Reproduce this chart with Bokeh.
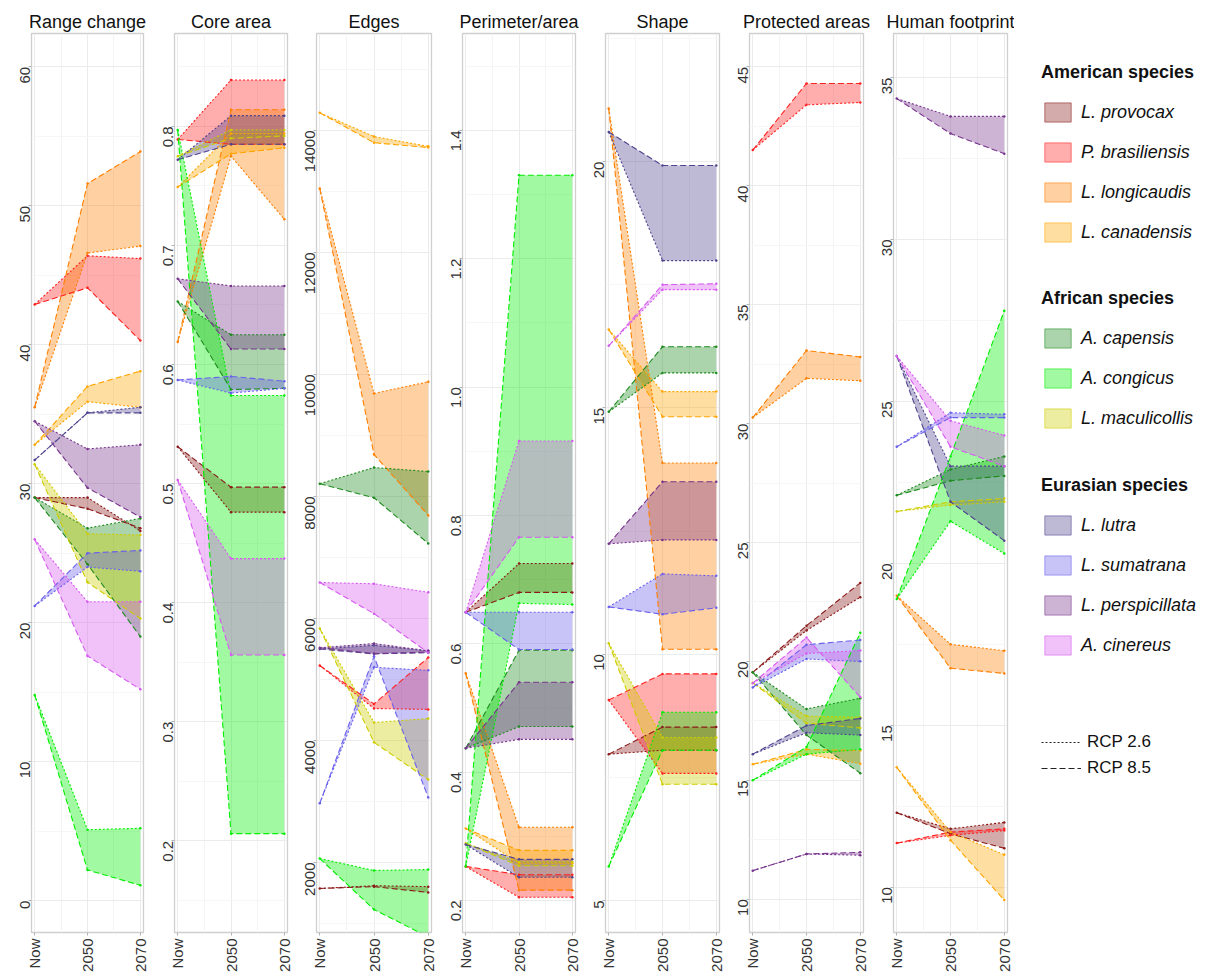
import numpy as np
from bokeh.plotting import figure
from bokeh.layouts import row, column
from bokeh.models import Range1d, FixedTicker, Legend, LegendItem, PrintfTickFormatter
from bokeh.embed import file_html
from bokeh.resources import INLINE

species = ["L. provocax", "P. brasiliensis", "L. longicaudis", "L. canadensis",
           "A. capensis", "A. congicus", "L. maculicollis",
           "L. lutra", "L. sumatrana", "L. perspicillata", "A. cinereus"]
groups = ["American species", "African species", "Eurasian species"]
group_sizes = [4, 3, 4]
colors = ["#8B1A1A", "#FF2020", "#FF7F00", "#FFA500",
          "#1E8B1E", "#00EE00", "#CDCD00",
          "#50448F", "#6A60EC", "#78348D", "#D65AF0"]
periods = [1, 2, 3]
period_labels = ["Now", "2050", "2070"]
scenario_labels = ["RCP 2.6", "RCP 8.5"]

# ---- Range change ----
range_now = [29.0, 42.9, 35.5, 32.8, 29.0, 14.8, 31.4, 31.7, 21.2, 34.5, 26.0]
range_2050_rcp26 = [29.0, 46.4, 46.6, 35.9, 26.8, 5.1, 26.4, 35.1, 24.0, 32.5, 21.5]
range_2070_rcp26 = [26.6, 46.2, 47.1, 35.5, 27.5, 5.2, 26.3, 35.5, 23.7, 32.8, 21.5]
range_2050_rcp85 = [28.2, 44.1, 51.6, 37.0, 24.2, 2.2, 22.9, 35.1, 25.0, 29.7, 17.6]
range_2070_rcp85 = [26.8, 40.3, 53.9, 38.1, 19.0, 1.1, 20.3, 35.1, 25.2, 27.6, 15.2]

# ---- Core area ----
core_now = [0.531, 0.789, 0.619, 0.749, 0.653, 0.797, 0.775, 0.772, 0.587, 0.672, 0.503]
core_2050_rcp26 = [0.476, 0.839, 0.775, 0.794, 0.625, 0.574, 0.797, 0.809, 0.576, 0.666, 0.437]
core_2070_rcp26 = [0.476, 0.839, 0.722, 0.794, 0.625, 0.574, 0.797, 0.809, 0.580, 0.666, 0.437]
core_2050_rcp85 = [0.497, 0.785, 0.814, 0.777, 0.579, 0.206, 0.790, 0.785, 0.590, 0.613, 0.356]
core_2070_rcp85 = [0.497, 0.785, 0.814, 0.782, 0.580, 0.206, 0.792, 0.785, 0.586, 0.613, 0.356]

# ---- Edges ----
edges_now = [1575, 5230, 13050, 14290, 8210, 2065, 5835, 5500, 2970, 5520, 6590]
edges_2050_rcp26 = [1620, 4525, 9690, 13900, 8475, 1870, 4295, 5560, 5200, 5590, 6570]
edges_2070_rcp26 = [1605, 4510, 9880, 13740, 8410, 1885, 4360, 5470, 5150, 5470, 6430]
edges_2050_rcp85 = [1605, 4600, 8690, 13800, 7980, 1230, 3970, 5420, 5380, 5425, 6080]
edges_2070_rcp85 = [1510, 5360, 7690, 13720, 7230, 780, 3360, 5440, 3065, 5450, 5440]

# ---- Perimeter/area ----
pa_now = [0.649, 0.253, 0.554, 0.312, 0.437, 0.253, 0.289, 0.287, 0.649, 0.437, 0.649]
pa_2050_rcp26 = [0.725, 0.205, 0.314, 0.258, 0.471, 0.663, 0.260, 0.236, 0.649, 0.451, 0.916]
pa_2070_rcp26 = [0.725, 0.205, 0.314, 0.258, 0.471, 0.661, 0.260, 0.236, 0.649, 0.451, 0.916]
pa_2050_rcp85 = [0.680, 0.240, 0.216, 0.278, 0.590, 1.330, 0.254, 0.264, 0.591, 0.540, 0.766]
pa_2070_rcp85 = [0.680, 0.240, 0.216, 0.278, 0.590, 1.330, 0.254, 0.264, 0.591, 0.540, 0.766]

# ---- Shape ----
shape_now = [7.97, 9.07, 21.08, 16.59, 14.92, 5.69, 10.22, 20.6, 10.96, 12.24, 16.26]
shape_2050_rcp26 = [8.05, 7.58, 13.88, 15.33, 15.71, 8.82, 8.31, 17.99, 11.63, 12.32, 17.40]
shape_2070_rcp26 = [8.05, 7.58, 13.88, 15.33, 15.71, 8.82, 8.31, 17.99, 11.59, 12.32, 17.40]
shape_2050_rcp85 = [8.52, 9.60, 10.10, 14.82, 16.24, 8.05, 7.36, 19.92, 10.81, 13.50, 17.50]
shape_2070_rcp85 = [8.52, 9.60, 10.10, 14.82, 16.24, 8.05, 7.36, 19.92, 10.94, 13.50, 17.52]

# ---- Protected areas ----
prot_now = [19.54, 41.5, 30.25, 15.67, 19.54, 15.0, 19.1, 16.1, 18.9, 11.2, 19.08]
prot_2050_rcp26 = [21.3, 43.4, 31.9, 16.1, 18.0, 16.1, 17.7, 17.0, 20.1, 11.9, 20.33]
prot_2070_rcp26 = [22.7, 43.5, 31.8, 15.7, 18.45, 16.3, 17.65, 16.9, 20.0, 11.85, 20.46]
prot_2050_rcp85 = [21.5, 44.3, 33.07, 16.3, 16.9, 16.4, 17.4, 17.3, 20.7, 11.9, 21.0]
prot_2070_rcp85 = [23.3, 44.3, 32.8, 16.25, 15.3, 21.2, 17.2, 17.6, 20.9, 11.97, 18.5]

# ---- Human footprint ----
hf_now = [12.3, 11.36, 19.0, 13.7, 22.1, 18.9, 21.6, 26.4, 23.6, 34.35, 26.4]
hf_2050_rcp26 = [11.8, 11.6, 17.5, 11.7, 22.9, 21.3, 21.8, 23.0, 24.65, 33.8, 24.4]
hf_2070_rcp26 = [12.0, 11.75, 17.3, 11.0, 23.3, 20.3, 21.9, 23.0, 24.6, 33.8, 23.95]
hf_2050_rcp85 = [11.65, 11.7, 16.76, 11.45, 22.55, 23.3, 21.9, 21.9, 24.5, 33.27, 23.6]
hf_2070_rcp85 = [11.2, 11.8, 16.6, 9.6, 22.7, 27.8, 22.0, 20.7, 24.5, 32.65, 23.0]

titles = ["Range change", "Core area", "Edges", "Perimeter/area", "Shape",
          "Protected areas", "Human footprint"]
y_limits = [(-2.3, 62.4), (0.123, 0.878), (853, 15590), (0.150, 1.551),
            (4.35, 22.6), (8.6, 46.4), (8.6, 36.36)]
y_ticks = [[0, 10, 20, 30, 40, 50, 60],
           [0.2, 0.3, 0.4, 0.5, 0.6, 0.7, 0.8],
           [2000, 4000, 6000, 8000, 10000, 12000, 14000],
           [0.2, 0.4, 0.6, 0.8, 1.0, 1.2, 1.4],
           [5, 10, 15, 20],
           [10, 15, 20, 25, 30, 35, 40, 45],
           [10, 15, 20, 25, 30, 35]]
y_formats = [None, "%.1f", None, "%.1f", None, None, None]

panel_data = [
    (range_now, range_2050_rcp26, range_2070_rcp26, range_2050_rcp85, range_2070_rcp85),
    (core_now, core_2050_rcp26, core_2070_rcp26, core_2050_rcp85, core_2070_rcp85),
    (edges_now, edges_2050_rcp26, edges_2070_rcp26, edges_2050_rcp85, edges_2070_rcp85),
    (pa_now, pa_2050_rcp26, pa_2070_rcp26, pa_2050_rcp85, pa_2070_rcp85),
    (shape_now, shape_2050_rcp26, shape_2070_rcp26, shape_2050_rcp85, shape_2070_rcp85),
    (prot_now, prot_2050_rcp26, prot_2070_rcp26, prot_2050_rcp85, prot_2070_rcp85),
    (hf_now, hf_2050_rcp26, hf_2070_rcp26, hf_2050_rcp85, hf_2070_rcp85),
]

# layout (styles)
FONT = "Liberation Sans"
frame_widths = [112, 113, 115, 113, 114, 114, 114]
left_borders = [31, 24, 22, 24, 23, 23, 23]
RIGHT = 7
FRAME_H = 899
TOP = 33
BOTTOM = 44
FILL_ALPHA = 0.37
DOT = "2 2"
DASH = "6 3"

figs = []
for k in range(7):
    now, a50, a70, b50, b70 = panel_data[k]
    ylo, yhi = y_limits[k]
    p = figure(frame_width=frame_widths[k], frame_height=FRAME_H,
               min_border_left=left_borders[k], min_border_right=RIGHT,
               min_border_top=TOP, min_border_bottom=BOTTOM,
               x_range=Range1d(0.94, 3.06), y_range=Range1d(ylo, yhi),
               output_backend="svg", toolbar_location=None,
               title=titles[k])
    p.title.text_font = FONT
    p.title.text_font_size = "18px"
    p.title.text_font_style = "normal"
    p.title.text_color = "#111111"
    p.title.align = "center"
    p.title.standoff = 4
    p.title.offset = 0

    for i in range(len(species)):
        p.varea(x=periods, y1=[now[i], a50[i], a70[i]], y2=[now[i], b50[i], b70[i]],
                fill_color=colors[i], fill_alpha=FILL_ALPHA)
    for i in range(len(species)):
        y26 = [now[i], a50[i], a70[i]]
        y85 = [now[i], b50[i], b70[i]]
        p.line(periods, y26, line_color=colors[i], line_width=1.1, line_dash=DOT)
        p.line(periods, y85, line_color=colors[i], line_width=1.1, line_dash=DASH)
        p.scatter(periods + periods[1:], y26 + y85[1:], size=2.5,
                  color=colors[i], line_width=0)

    yt = y_ticks[k]
    step = yt[1] - yt[0]
    minor = [yt[0] - step / 2] + [t + step / 2 for t in yt]
    p.yaxis.ticker = FixedTicker(ticks=yt, minor_ticks=minor)
    if y_formats[k]:
        p.yaxis.formatter = PrintfTickFormatter(format=y_formats[k])
    p.xaxis.ticker = FixedTicker(ticks=periods, minor_ticks=[1.5, 2.5])
    p.xaxis.major_label_overrides = {periods[j]: period_labels[j] for j in range(3)}

    for ax in (p.xaxis, p.yaxis):
        ax.major_label_orientation = np.pi / 2
        ax.major_label_text_font = FONT
        ax.major_label_text_font_size = "15px"
        ax.major_label_text_color = "#333333"
        ax.axis_line_color = None
        ax.major_tick_line_color = "#b3b3b3"
        ax.major_tick_out = 3
        ax.major_tick_in = 0
        ax.minor_tick_line_color = None
        ax.major_label_standoff = 2

    p.xgrid.grid_line_color = "#ebebeb"
    p.ygrid.grid_line_color = "#ebebeb"
    p.xgrid.minor_grid_line_color = "#f4f4f4"
    p.ygrid.minor_grid_line_color = "#f6f6f6"
    p.outline_line_color = "#cfcfcf"
    p.outline_line_width = 1.3
    p.background_fill_color = "white"
    p.border_fill_color = "white"
    figs.append(p)


# ---- legend column ----
LEG_LEFT = 27
LEG_FRAME_W = 163
NAN = np.array([np.nan])


def legend_fig(top, fh):
    f = figure(frame_width=LEG_FRAME_W, frame_height=fh,
               min_border_left=LEG_LEFT, min_border_top=top,
               min_border_right=0, min_border_bottom=0,
               x_range=Range1d(0, 1), y_range=Range1d(0, 1),
               x_axis_location=None, y_axis_location=None,
               output_backend="svg", toolbar_location=None)
    f.outline_line_color = None
    f.xgrid.visible = False
    f.ygrid.visible = False
    return f


def style_legend(leg):
    leg.location = "top_left"
    leg.orientation = "vertical"
    leg.padding = 0
    leg.margin = 0
    leg.background_fill_alpha = 0
    leg.border_line_color = None
    leg.label_text_font = FONT
    leg.label_text_color = "#111111"


leg_tops = [62, 36, 37]
leg_frames = [190, 150, 190]
leg_figs = []
start = 0
for g in range(3):
    f = legend_fig(leg_tops[g], leg_frames[g])
    items = []
    for i in range(start, start + group_sizes[g]):
        r = f.patch(x=NAN, y=NAN, fill_color=colors[i], fill_alpha=FILL_ALPHA,
                    line_color=colors[i], line_alpha=0.55, line_width=1)
        items.append(LegendItem(label=species[i], renderers=[r]))
    start += group_sizes[g]
    leg = Legend(items=items, title=groups[g])
    style_legend(leg)
    leg.title_text_font = FONT
    leg.title_text_font_size = "18px"
    leg.title_text_font_style = "bold"
    leg.title_text_color = "#111111"
    leg.title_standoff = 17
    leg.label_text_font_size = "18px"
    leg.label_text_font_style = "italic"
    leg.glyph_width = 33
    leg.glyph_height = 24
    leg.label_height = 20
    leg.label_standoff = 7
    leg.spacing = 16
    f.add_layout(leg, "center")
    leg_figs.append(f)

f = legend_fig(67, 60)
r26 = f.line(x=NAN, y=NAN, line_color="#222222", line_width=1, line_dash="2 2")
r85 = f.line(x=NAN, y=NAN, line_color="#222222", line_width=1, line_dash="6 3")
leg_rcp = Legend(items=[LegendItem(label=scenario_labels[0], renderers=[r26]),
                        LegendItem(label=scenario_labels[1], renderers=[r85])])
style_legend(leg_rcp)
leg_rcp.label_text_font_size = "17px"
leg_rcp.glyph_width = 40
leg_rcp.glyph_height = 20
leg_rcp.label_height = 20
leg_rcp.label_standoff = 6
leg_rcp.spacing = 6
f.add_layout(leg_rcp, "center")
leg_figs.append(f)

layout = row(*figs, column(*leg_figs))
open("out.html", "w").write(file_html(layout, INLINE))
